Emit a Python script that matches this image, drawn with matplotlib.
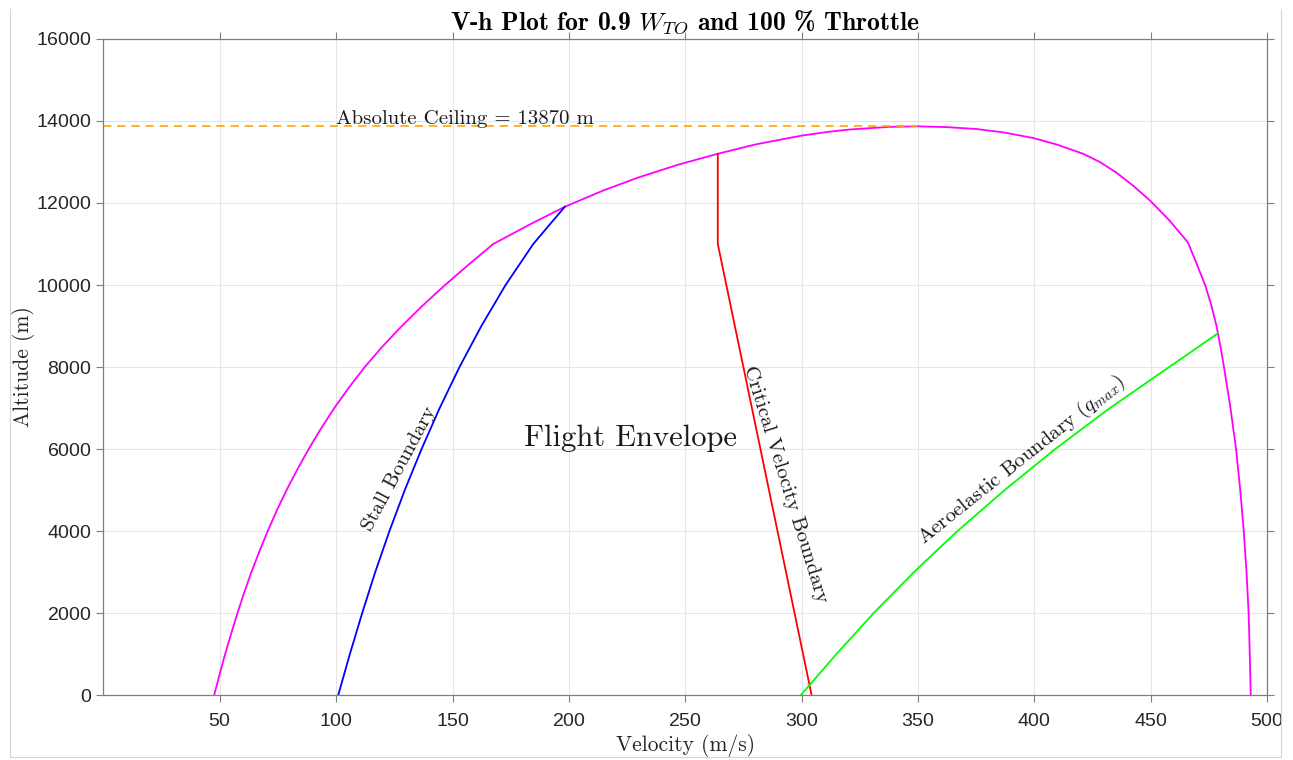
import matplotlib
matplotlib.use("Agg")
import matplotlib.pyplot as plt
from matplotlib.lines import Line2D

# Thrust-limited envelope, low-speed branch (sea level up to the tropopause)
low_v = [47.6, 49.9, 52.3, 54.9, 57.6, 60.5, 63.6, 67.0, 70.6, 74.5, 78.7,
         83.3, 88.2, 93.5, 99.2, 105.5, 112.3, 119.9, 128.2, 137.2, 146.8,
         157.0, 167.5]
low_h = [0, 500, 1000, 1500, 2000, 2500, 3000, 3500, 4000, 4500, 5000,
         5500, 6000, 6500, 7000, 7500, 8000, 8500, 9000, 9500, 10000,
         10500, 11000]

# Upper part of the envelope above 11 km, up to the absolute ceiling and back down
top_v = [183.0, 198.3, 215.0, 230.0, 247.0, 264.0, 280.0, 300.0, 312.0,
         320.7, 337.5, 350.0, 362.5, 375.0, 387.0, 399.5, 410.0, 421.0,
         428.0, 435.3, 442.5, 449.6, 458.0, 466.0]
top_h = [11470, 11910, 12310, 12625, 12935, 13200, 13426, 13643, 13739,
         13792, 13856, 13870, 13850, 13805, 13720, 13585, 13420, 13200,
         13005, 12740, 12420, 12066, 11580, 11040]

# High-speed branch below the tropopause
high_v = [469.9, 473.4, 476.1, 478.3, 480.0, 481.5, 484.3, 486.7, 488.5,
          490.0, 491.2, 492.1, 492.6, 493.0]
high_h = [10500, 10000, 9500, 9000, 8500, 8000, 7000, 6000, 5000,
          4000, 3000, 2000, 1000, 0]

env_v = low_v + top_v + high_v
env_h = low_h + top_h + high_h

# Stall limit
stall_v = [100.9, 105.9, 111.2, 116.8, 122.9, 129.5, 136.7, 144.5, 153.0,
           162.4, 172.8, 184.7, 191.4, 198.3]
stall_h = [0, 1000, 2000, 3000, 4000, 5000, 6000, 7000, 8000,
           9000, 10000, 11000, 11450, 11910]

# Critical (drag-divergence) speed
crit_v = [304.3, 264.0, 264.0]
crit_h = [0, 11000, 13200]

# Aeroelastic limit at q_max
aero_v = [299.7, 315.0, 331.0, 348.3, 367.0, 387.3, 409.0, 432.5, 458.0, 478.9]
aero_h = [0, 1000, 2000, 3000, 4000, 5000, 6000, 7000, 8000, 8821]

ceiling_h = 13870
ceiling_v = 350.0

x_ticks = list(range(50, 501, 50))
y_ticks = list(range(0, 16001, 2000))

plt.rcParams["mathtext.fontset"] = "cm"
plt.rcParams["font.family"] = "cmr10"
plt.rcParams["axes.formatter.use_mathtext"] = True

fig = plt.figure(figsize=(12.93, 7.60), dpi=100)
ax = fig.add_axes([0.0800, 0.0855, 0.8999, 0.8632])

lw = 1.3
ax.plot(env_v, env_h, color="#ff00ff", lw=lw)
ax.plot(stall_v, stall_h, color="#0000ff", lw=lw)
ax.plot(crit_v, crit_h, color="#ff0000", lw=lw)
ax.plot(aero_v, aero_h, color="#00ff00", lw=lw)
ax.plot([0, ceiling_v], [ceiling_h, ceiling_h], color="#ffa500", lw=1.2,
        dashes=(5, 3.5))

ax.annotate(f"Absolute Ceiling = {ceiling_h} m", xy=(100, ceiling_h),
            xytext=(0, 1.5), textcoords="offset points",
            ha="left", va="baseline", fontsize=15, color="#1a1a1a")

ax.text(226.6, 6268, "Flight Envelope", fontsize=22, ha="center",
        va="center", color="#1a1a1a")
ax.text(127.4, 5512, "Stall Boundary", fontsize=15, rotation=62,
        rotation_mode="anchor", ha="center", va="center", color="#1a1a1a")
ax.text(293.2, 5146, "Critical Velocity Boundary", fontsize=15,
        rotation=-72.7, rotation_mode="anchor", ha="center", va="center",
        color="#1a1a1a")
ax.text(394.6, 5732, "Aeroelastic Boundary ($q_{max}$)", fontsize=15,
        rotation=38.6, rotation_mode="anchor", ha="center", va="center",
        color="#1a1a1a")

ax.set_xlim(0, 500)
ax.set_ylim(0, 16000)
ax.set_xticks(x_ticks)
ax.set_yticks(y_ticks)
ax.grid(True, color="#e6e6e6", lw=0.8)
ax.set_axisbelow(True)

for sp in ax.spines.values():
    sp.set_color("#7f7f7f")
    sp.set_linewidth(0.9)

ax.tick_params(direction="out", length=5, width=0.8, top=True, right=True,
               labelsize=14, labelcolor="#262626", color="#7f7f7f",
               labelfontfamily="Liberation Sans")
ax.tick_params(axis="x", pad=8)
ax.tick_params(axis="y", pad=3.5)

ax.set_xlabel("Velocity (m/s)", fontsize=15.5, color="#262626", labelpad=3)
ax.set_ylabel("Altitude (m)", fontsize=15.5, color="#262626", labelpad=1)
ax.set_title("V-h Plot for 0.9 $W_{TO}$ and 100 % Throttle",
             fontfamily="cmb10", fontsize=18.5, pad=7)

# light frame around the exported figure
frame = "#d4d4d4"
fig.add_artist(Line2D([9.5 / 1293, 9.5 / 1293], [1 - 757 / 760, 1 - 9 / 760],
                      color=frame, lw=0.8, transform=fig.transFigure))
fig.add_artist(Line2D([1281 / 1293, 1281 / 1293], [1 - 757 / 760, 1 - 9 / 760],
                      color=frame, lw=0.8, transform=fig.transFigure))
fig.add_artist(Line2D([9.5 / 1293, 1281 / 1293], [1 - 757 / 760, 1 - 757 / 760],
                      color=frame, lw=0.8, transform=fig.transFigure))

fig.savefig("out.png", dpi=100)
